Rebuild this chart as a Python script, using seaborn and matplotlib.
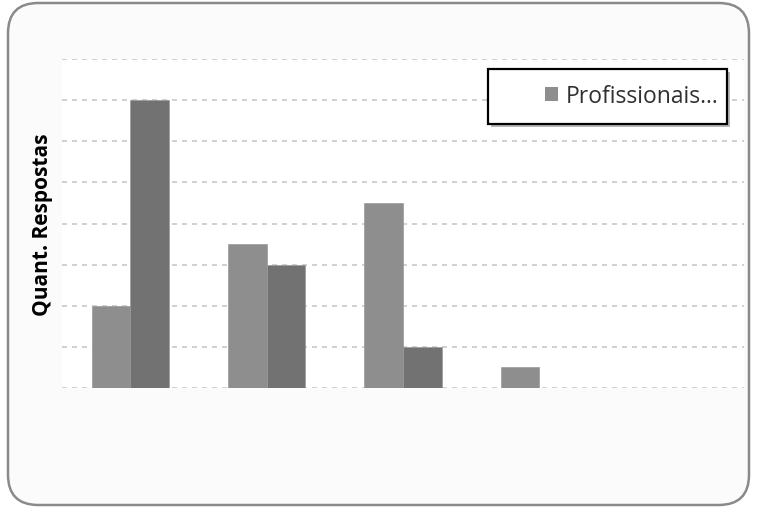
import matplotlib
matplotlib.use("Agg")
import matplotlib.pyplot as plt
import seaborn as sns
import pandas as pd
from matplotlib.patches import FancyBboxPatch, Rectangle

categories = ["C1", "C2", "C3", "C4", "C5"]
series_names = ["Profissionais...", "Outros"]
values_a = [4, 7, 9, 1, 0]
values_b = [14, 6, 2, 0, 0]
colors = ["#8e8e8e", "#727272"]

df = pd.DataFrame({
    "cat": categories * 2,
    "serie": [series_names[0]] * len(categories) + [series_names[1]] * len(categories),
    "val": values_a + values_b,
})

sns.set_style("white")
plt.rcParams["font.family"] = ["Open Sans", "DejaVu Sans"]

W, H = 757, 510
fig = plt.figure(figsize=(W / 100, H / 100), dpi=100)
fig.patch.set_facecolor("white")
frame = FancyBboxPatch((8 / W, 4 / H), 741 / W, 502 / H,
                       boxstyle="round,pad=0,rounding_size=0.04",
                       transform=fig.transFigure, facecolor="#fbfbfb",
                       edgecolor="#8a8a8a", linewidth=1.8, zorder=-10,
                       mutation_aspect=W / H)
fig.patches.append(frame)

ax = fig.add_axes([62 / W, 1 - 389 / H, (744 - 62) / W, (389 - 60) / H])
ax.set_zorder(5)
ax.set_facecolor("white")
sns.barplot(data=df, x="cat", y="val", hue="serie", palette=colors,
            width=0.565, ax=ax, legend=False, saturation=1,
            edgecolor="#9a9a9a", linewidth=0.5)
ax.set_ylim(0, 16)
ax.set_xlim(-0.5, 4.5)
ax.set_yticks(range(0, 17, 2))
ax.yaxis.grid(True, linestyle=(0, (3, 3)), color="#c8c8c8", linewidth=1.2)
ax.set_axisbelow(True)
ax.tick_params(left=False, bottom=False, labelleft=False, labelbottom=False)
for s in ax.spines.values():
    s.set_visible(False)
ax.set_xlabel("")
ax.set_ylabel("")
fig.text(43 / W, 1 - 225 / H, "Quant. Respostas", rotation=90, ha="center", va="center",
         fontsize=15, fontweight="bold", color="black")

# legend box with shadow
shadow = Rectangle((491 / W, 1 - 128 / H), 239 / W, 55 / H, transform=fig.transFigure,
                   facecolor="#9a9a9a", edgecolor="none", zorder=9, alpha=0.7)
box = Rectangle((488 / W, 1 - 125 / H), 239 / W, 55 / H, transform=fig.transFigure,
                facecolor="white", edgecolor="black", linewidth=1.6, zorder=10)
fig.patches.extend([shadow, box])

leg_handle = Rectangle((0, 0), 1, 1, facecolor=colors[0], edgecolor="none")
leg = fig.legend([leg_handle], [series_names[0]], loc="center right",
                 bbox_to_anchor=(718 / W, 1 - 97 / H), bbox_transform=fig.transFigure,
                 frameon=False, fontsize=16.5,
                 handlelength=0.6, handleheight=0.6, handletextpad=0.3,
                 borderpad=0, borderaxespad=0)
leg.set_zorder(11)
for t in leg.get_texts():
    t.set_color("#303030")

fig.savefig("out.png", dpi=100)
